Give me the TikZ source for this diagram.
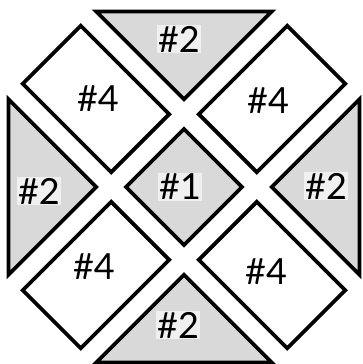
\documentclass[tikz,border=0pt]{standalone}
\usepackage{fontspec}
\setmainfont{Lato}
\usetikzlibrary{positioning}

\tikzset{
  piece/.style={draw=black,line width=3.8pt,line join=miter},
  shaded/.style={piece,fill=gray!30},
  plain/.style={piece,fill=white},
  tag/.style={font=\fontsize{36}{40}\selectfont,inner sep=1pt},
  shadetag/.style={tag,fill=gray!12},
}

\begin{document}
\begin{tikzpicture}[x=1pt,y=1pt]
    \useasboundingbox (-184,-177) rectangle (178,187);
    % centre square (#1)
    \draw[shaded,rotate=45] (-41,-41) rectangle (41,41);
    % long pieces (#4)
    \foreach \k in {0,1,2,3}
      \draw[plain,rotate=45+90*\k] (-41,62) rectangle (41,187);
    % corner triangles (#2)
    \foreach \k in {0,1,2,3}
      \draw[shaded,rotate=90*\k] (0,87.7) -- (-87.7,175.4) -- (87.7,175.4) -- cycle;
    % labels
    \node[shadetag] (c1) at (-4,0) {\#1};
    \node[tag] (tl) at (-86,88) {\#4};
    \node[tag] (tr) at (84,86) {\#4};
    \node[tag] (bl) at (-90,-80) {\#4};
    \node[tag] (br) at (82,-85) {\#4};
    \node[shadetag] (t2) at (-5,148) {\#2};
    \node[shadetag] (l2) at (-145,-4) {\#2};
    \node[shadetag] (r2) at (142,1) {\#2};
    \node[shadetag] (b2) at (-6,-138) {\#2};
\end{tikzpicture}
\end{document}
